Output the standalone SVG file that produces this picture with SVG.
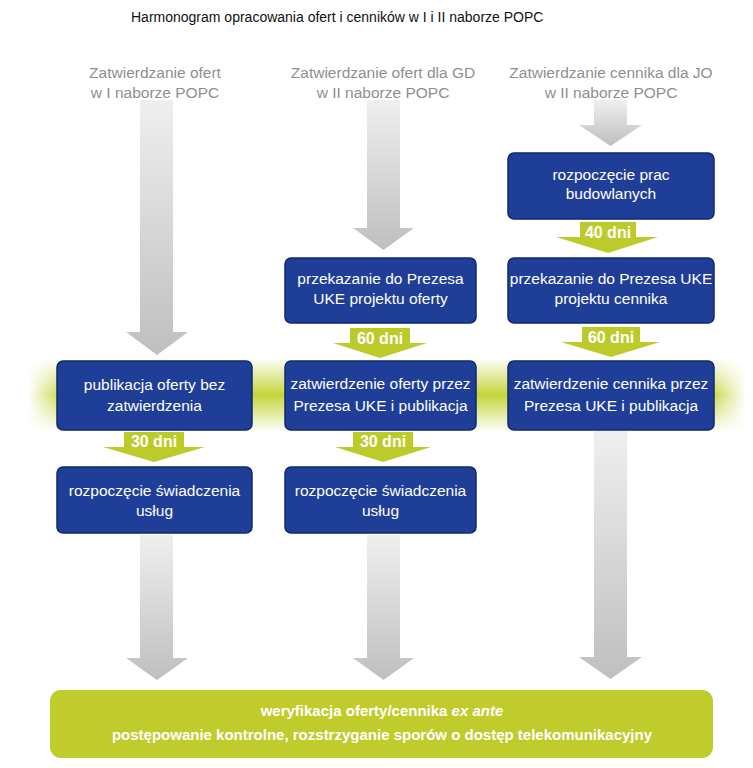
<svg xmlns="http://www.w3.org/2000/svg" width="753" height="768" viewBox="0 0 753 768">
<defs>
<style>
.title{font-family:"Liberation Sans",Arial,sans-serif;font-size:14px;fill:#111}
.hdr{font-family:"Liberation Sans",Arial,sans-serif;font-size:15.5px;fill:#8f8f8f;text-anchor:middle}
.box{fill:#1f3e98;stroke:#10296e;stroke-width:1.5}
.bt{font-family:"Liberation Sans",Arial,sans-serif;font-size:15.5px;fill:#fff;text-anchor:middle}
.gar{fill:#bccb2a}
.gl{font-family:"Liberation Sans",Arial,sans-serif;font-size:16px;font-weight:bold;fill:#fff;text-anchor:middle}
.gray{fill:url(#gg)}
.ft{font-family:"Liberation Sans",Arial,sans-serif;font-size:15px;font-weight:bold;fill:#fff;text-anchor:middle}
</style>
<linearGradient id="gg" x1="0" y1="0" x2="0" y2="1">
<stop offset="0" stop-color="#efefef"/>
<stop offset="1" stop-color="#bfbfbf"/>
</linearGradient>
<linearGradient id="bandv" x1="0" y1="0" x2="0" y2="1">
<stop offset="0" stop-color="#c4d53a" stop-opacity="0"/>
<stop offset="0.5" stop-color="#c4d53a" stop-opacity="1"/>
<stop offset="1" stop-color="#c4d53a" stop-opacity="0"/>
</linearGradient>
<linearGradient id="bandh" x1="0" y1="0" x2="1" y2="0">
<stop offset="0" stop-color="#fff" stop-opacity="0"/>
<stop offset="0.05" stop-color="#fff" stop-opacity="1"/>
<stop offset="0.95" stop-color="#fff" stop-opacity="1"/>
<stop offset="1" stop-color="#fff" stop-opacity="0"/>
</linearGradient>
<mask id="bm"><rect x="28" y="355" width="718" height="80" fill="url(#bandh)"/></mask>
</defs>
<rect width="753" height="768" fill="#fff"/>
<text class="title" x="131" y="22">Harmonogram opracowania ofert i cenników w I i II naborze POPC</text>
<g id="headers">
<text class="hdr" x="155" y="78">Zatwierdzanie ofert</text>
<text class="hdr" x="155" y="98">w I naborze POPC</text>
<text class="hdr" x="383" y="78">Zatwierdzanie ofert dla GD</text>
<text class="hdr" x="383" y="98">w II naborze POPC</text>
<text class="hdr" x="611" y="78">Zatwierdzanie cennika dla JO</text>
<text class="hdr" x="611" y="98">w II naborze POPC</text>
</g>
<g id="band"><rect x="28" y="358" width="718" height="74" fill="url(#bandv)" mask="url(#bm)"/></g>
<g id="connectors">
<polygon class="gray" points="140,100 173,100 173,332 188,332 157,355 126,332 140,332"/>
<polygon class="gray" points="367,100 400,100 400,228 414,228 383.5,250 353,228 367,228"/>
<polygon class="gray" points="594,100 627,100 627,125 642,125 610.5,146 579,125 594,125"/>
<polygon class="gray" points="140,535 173,535 173,658 188,658 157,680 126,658 140,658"/>
<polygon class="gray" points="367,535 400,535 400,658 414,658 383.5,680 353,658 367,658"/>
<polygon class="gray" points="594,431 627,431 627,657 642,657 610.5,679 579,657 594,657"/>
<polygon class="gar" points="124,432 184,432 184,447 205,447 154,462 103,447 124,447"/>
<text class="gl" x="154" y="447">30 dni</text>
<polygon class="gar" points="350,328 410,328 410,343 427,343 380,358 333,343 350,343"/>
<text class="gl" x="380" y="344">60 dni</text>
<polygon class="gar" points="353,432 413,432 413,447 431,447 383,462 335,447 353,447"/>
<text class="gl" x="383" y="447">30 dni</text>
<polygon class="gar" points="580,222 636,222 636,237 658,237 608,253 556,237 580,237"/>
<text class="gl" x="608" y="238">40 dni</text>
<polygon class="gar" points="582,327 640,327 640,342 660,342 611,357 561,342 582,342"/>
<text class="gl" x="611" y="343">60 dni</text>
</g>
<g id="n_pub_bez">
<rect class="box" x="57" y="361" width="195" height="69" rx="6"/>
<text class="bt" x="154.5" y="390">publikacja oferty bez</text>
<text class="bt" x="154.5" y="411">zatwierdzenia</text>
</g>
<g id="n_swiad1">
<rect class="box" x="57" y="467" width="195" height="66" rx="6"/>
<text class="bt" x="154.5" y="496">rozpoczęcie świadczenia</text>
<text class="bt" x="154.5" y="516">usług</text>
</g>
<g id="n_przek_oferty">
<rect class="box" x="285" y="258" width="191" height="65" rx="6"/>
<text class="bt" x="380.5" y="284">przekazanie do Prezesa</text>
<text class="bt" x="380.5" y="304">UKE projektu oferty</text>
</g>
<g id="n_zatw_oferty">
<rect class="box" x="285" y="361" width="191" height="69" rx="6"/>
<text class="bt" x="380.5" y="389">zatwierdzenie oferty przez</text>
<text class="bt" x="380.5" y="411">Prezesa UKE i publikacja</text>
</g>
<g id="n_swiad2">
<rect class="box" x="285" y="467" width="191" height="66" rx="6"/>
<text class="bt" x="380.5" y="496">rozpoczęcie świadczenia</text>
<text class="bt" x="380.5" y="516">usług</text>
</g>
<g id="n_prace">
<rect class="box" x="508" y="153" width="206" height="66" rx="6"/>
<text class="bt" x="611" y="180">rozpoczęcie prac</text>
<text class="bt" x="611" y="199">budowlanych</text>
</g>
<g id="n_przek_cennika">
<rect class="box" x="508" y="258" width="206" height="65" rx="6"/>
<text class="bt" x="611" y="284">przekazanie do Prezesa UKE</text>
<text class="bt" x="611" y="304">projektu cennika</text>
</g>
<g id="n_zatw_cennika">
<rect class="box" x="508" y="361" width="206" height="69" rx="6"/>
<text class="bt" x="611" y="389">zatwierdzenie cennika przez</text>
<text class="bt" x="611" y="411">Prezesa UKE i publikacja</text>
</g>
<g id="n_weryfikacja">
<rect x="50" y="690" width="663" height="68" rx="11" fill="#bfcc2b"/>
<text class="ft" x="382" y="716">weryfikacja oferty/cennika <tspan font-style="italic">ex ante</tspan></text>
<text class="ft" x="382" y="740">postępowanie kontrolne, rozstrzyganie sporów o dostęp telekomunikacyjny</text>
</g>
</svg>
